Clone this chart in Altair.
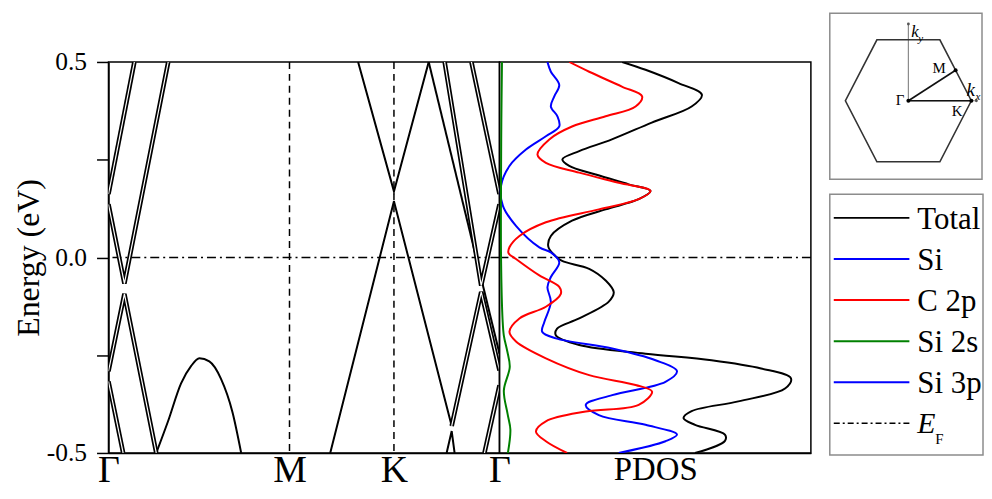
import altair as alt
import pandas as pd

FONT = "Liberation Serif"

# ---------------- band structure ----------------
# k-path coordinates of the high-symmetry points (Γ-M = 1)
kpt_labels = ["Γ", "M", "K", "Γ"]
kpt_pos = [0.0, 1.0, 1.577, 2.16]
e_ticks = [-0.5, -0.25, 0.0, 0.25, 0.5]

# nearly degenerate band pairs (drawn as double lines)
pair_a_k = [0.0, 0.143]
pair_a_e = [0.162, 0.5]
pair_b_k = [0.0, 0.088, 0.330]
pair_b_e = [0.136, -0.067, 0.5]
pair_c_k = [0.0, 0.088, 0.264]
pair_c_e = [-0.291, -0.093, -0.5]
pair_d_k = [0.0, 0.081]
pair_d_e = [-0.317, -0.5]
pair_e_k = [2.005, 2.16]
pair_e_e = [0.5, 0.162]
pair_f_k = [1.857, 2.059, 2.16]
pair_f_e = [0.5, -0.072, 0.136]
pair_g_k = [1.896, 2.059, 2.16]
pair_g_e = [-0.431, -0.088, -0.289]
pair_h_k = [2.077, 2.16]
pair_h_e = [-0.5, -0.327]

# single bands
single_a_k = [1.379, 1.577, 1.769]
single_a_e = [0.5, 0.169, 0.5]
single_b_k = [1.225, 1.577, 1.896]
single_b_e = [-0.5, 0.144, -0.431]
single_c_k = [1.868, 1.896, 1.912]
single_c_e = [-0.5, -0.444, -0.5]
single_d_k = [1.769, 2.16]
single_d_e = [0.5, -0.246]

# curved valence band between Γ and M
curve_k = [0.264, 0.329, 0.401, 0.456, 0.502, 0.557, 0.621, 0.685, 0.733]
curve_e = [-0.5, -0.419, -0.322, -0.278, -0.258, -0.266, -0.310, -0.396, -0.5]

# ---------------- PDOS ----------------
total_e = [0.5, 0.480, 0.446, 0.416, 0.386, 0.345, 0.302, 0.272, 0.251, 0.234,
           0.212, 0.187, 0.170, 0.149, 0.123, 0.094, 0.055, 0.027, 0.004, -0.009,
           -0.029, -0.059, -0.089, -0.113, -0.156, -0.182, -0.199, -0.224, -0.246, -0.263,
           -0.284, -0.309, -0.335, -0.368, -0.393, -0.411, -0.428, -0.453, -0.469, -0.5]
total_dos = [3.94, 4.69, 5.75, 6.50, 6.17, 4.89, 3.61, 2.56, 2.02, 2.24,
             3.09, 4.15, 4.85, 4.47, 3.41, 2.33, 1.65, 1.57, 1.79, 2.01,
             2.88, 3.41, 3.67, 3.51, 2.56, 1.85, 1.81, 2.56, 4.69, 6.81,
             8.40, 9.36, 9.17, 7.67, 6.17, 5.91, 6.28, 7.24, 7.24, 6.28]

c2p_e = [0.5, 0.475, 0.437, 0.412, 0.386, 0.361, 0.335, 0.302, 0.263, 0.242,
         0.217, 0.191, 0.170, 0.149, 0.123, 0.090, 0.055, 0.026, 0.011, -0.004,
         -0.046, -0.075, -0.093, -0.126, -0.156, -0.190, -0.215, -0.258, -0.301, -0.326,
         -0.343, -0.377, -0.394, -0.419, -0.445, -0.470, -0.5]
c2p_dos = [2.24, 2.88, 3.93, 4.58, 4.37, 3.41, 2.33, 1.60, 1.22, 1.49,
           2.56, 3.83, 4.85, 4.47, 3.19, 1.49, 0.64, 0.32, 0.29, 0.53,
           1.28, 1.92, 1.97, 1.49, 0.64, 0.32, 0.53, 1.49, 2.88, 4.37,
           4.90, 4.47, 2.77, 1.49, 1.17, 1.49, 2.17]

si3p_e = [0.5, 0.475, 0.441, 0.412, 0.386, 0.361, 0.335, 0.310, 0.276, 0.234,
          0.183, 0.132, 0.081, 0.026, 0.013, -0.012, -0.050, -0.076, -0.114, -0.165,
          -0.190, -0.207, -0.233, -0.263, -0.291, -0.318, -0.352, -0.377, -0.403, -0.428,
          -0.453, -0.470, -0.5]
si3p_dos = [1.54, 1.65, 1.92, 1.76, 1.65, 1.86, 1.92, 1.49, 0.85, 0.32,
            0.05, 0.11, 0.53, 1.28, 1.65, 1.92, 1.65, 1.54, 1.65, 1.44,
            1.37, 1.81, 3.62, 5.01, 5.70, 5.33, 3.62, 2.77, 3.19, 4.69,
            5.70, 5.33, 3.83]

si2s_e = [0.5, 0.35, 0.2, 0.0, -0.16, -0.2, -0.24, -0.28, -0.34, -0.40, -0.44, -0.5]
si2s_dos = [0.08, 0.06, 0.05, 0.05, 0.10, 0.14, 0.25, 0.33, 0.14, 0.26, 0.35, 0.27]

# ---------------- legend & Brillouin-zone inset ----------------
legend_names = ["Total", "Si", "C 2p", "Si 2s", "Si 3p"]
legend_colors = ["#000000", "#0000ff", "#ff0000", "#008000", "#0000ff"]

hex_kx = [1.0, 0.5, -0.5, -1.0, -0.5, 0.5, 1.0]
hex_ky = [0.0, 0.866, 0.866, 0.0, -0.866, -0.866, 0.0]
bz_names = ["Γ", "M", "K"]
bz_kx = [0.0, 0.75, 1.0]
bz_ky = [0.0, 0.433, 0.0]
kx_axis_end = 1.08
ky_axis_end = 1.09

# ================= build tables =================
def band_table(items, kind):
    rows = []
    for name, ks, es in items:
        for i, (k, e) in enumerate(zip(ks, es)):
            rows.append({"band": name, "i": i, "k": k, "E": e, "kind": kind})
    return rows

pairs = [("a", pair_a_k, pair_a_e), ("b", pair_b_k, pair_b_e), ("c", pair_c_k, pair_c_e),
         ("d", pair_d_k, pair_d_e), ("e", pair_e_k, pair_e_e), ("f", pair_f_k, pair_f_e),
         ("g", pair_g_k, pair_g_e), ("h", pair_h_k, pair_h_e)]
singles = [("sa", single_a_k, single_a_e), ("sb", single_b_k, single_b_e),
           ("sc", single_c_k, single_c_e), ("sd", single_d_k, single_d_e)]
df_pairs = pd.DataFrame(band_table(pairs, "pair"))
df_single = pd.DataFrame(band_table(singles, "single"))
df_curve = pd.DataFrame({"k": curve_k, "E": curve_e, "i": list(range(len(curve_k)))})

label_expr = "''"
for pos, lab in reversed(list(zip(kpt_pos, kpt_labels))):
    label_expr = f"abs(datum.value - {pos}) < 1e-6 ? '{lab}' : ({label_expr})"

e_scale = alt.Scale(domain=[-0.5, 0.5], nice=False, zero=False)

x_band = alt.X("k:Q",
               scale=alt.Scale(domain=[kpt_pos[0], kpt_pos[-1]], nice=False, zero=False),
               axis=alt.Axis(values=kpt_pos, labelExpr=label_expr, title=None, ticks=False,
                             tickSize=0, domain=True, domainColor="black", domainWidth=1.5,
                             grid=False, labelFont=FONT, labelFontSize=38, labelPadding=29,
                             labelBaseline="alphabetic", labelColor="black",
                             labelOverlap=False, labelFlush=False))
y_band = alt.Y("E:Q", scale=e_scale,
               axis=alt.Axis(values=e_ticks,
                             labelExpr="abs(datum.value) == 0.25 ? '' : (datum.value < 0 ? '-' + format(-datum.value, '.1f') : format(datum.value, '.1f'))",
                             title="Energy (eV)", titleFont=FONT, titleFontSize=32,
                             titleFontWeight="normal", titlePadding=1, titleColor="black",
                             labelFont=FONT, labelFontSize=25.6, labelColor="black",
                             labelPadding=10, tickSize=12, tickColor="black", tickWidth=1.5,
                             domainColor="black", domainWidth=1.5, grid=False,
                             labelOverlap=False))

kp_rules = alt.Chart(pd.DataFrame({"k": kpt_pos[1:3]})).mark_rule(
    color="black", strokeWidth=1.5, strokeDash=[7, 5]).encode(x=x_band)
ef_rule_band = alt.Chart(pd.DataFrame({"E": [0.0]})).mark_rule(
    color="black", strokeWidth=1.5, strokeDash=[9, 4, 2, 4]).encode(y=y_band)
single_lines = alt.Chart(df_single).mark_line(color="black", strokeWidth=2, clip=True).encode(
    x=x_band, y=y_band, detail="band:N", order="i:Q")
curve_line = alt.Chart(df_curve).mark_line(color="black", strokeWidth=2, clip=True,
                                           interpolate="monotone").encode(
    x=x_band, y=y_band, order="i:Q")
pair_black = alt.Chart(df_pairs).mark_line(color="black", strokeWidth=4.6, clip=True).encode(
    x=x_band, y=y_band, detail="band:N", order="i:Q")
pair_white = alt.Chart(df_pairs).mark_line(color="white", strokeWidth=1.2, clip=True).encode(
    x=x_band, y=y_band, detail="band:N", order="i:Q")

band = alt.layer(kp_rules, ef_rule_band, single_lines, curve_line, pair_black, pair_white).properties(
    width=393, height=393, view=alt.ViewBackground(stroke="black", strokeWidth=1.5))

# PDOS panel
x_dos = alt.X("dos:Q", scale=alt.Scale(domain=[0, 10], nice=False, zero=False),
              axis=alt.Axis(title="PDOS", labels=False, ticks=False, tickSize=0, domain=True,
                            domainColor="black", domainWidth=1.5, grid=False, titleFont=FONT,
                            titleFontSize=33, titleFontWeight="normal", titlePadding=27,
                            titleBaseline="alphabetic", titleColor="black"))
y_dos = alt.Y("E:Q", scale=e_scale, axis=None)

ef_rule_dos = alt.Chart(pd.DataFrame({"E": [0.0]})).mark_rule(
    color="black", strokeWidth=1.5, strokeDash=[9, 4, 2, 4]).encode(y=y_dos)

pdos_layers = [ef_rule_dos]
for es, ds, col in [(total_e, total_dos, "#000000"), (si3p_e, si3p_dos, "#0000ff"),
                    (c2p_e, c2p_dos, "#ff0000"), (si2s_e, si2s_dos, "#008000")]:
    d = pd.DataFrame({"E": es, "dos": ds, "i": list(range(len(es)))})
    pdos_layers.append(alt.Chart(d).mark_line(color=col, strokeWidth=2, clip=True,
                                              interpolate="catmull-rom").encode(
        x=x_dos, y=y_dos, order="i:Q"))
pdos = alt.layer(*pdos_layers).properties(
    width=313, height=393, view=alt.ViewBackground(stroke="black", strokeWidth=1.5))

# Brillouin-zone inset
x_in = alt.X("kx:Q", scale=alt.Scale(domain=[-1.248, 1.169], nice=False, zero=False), axis=None)
y_in = alt.Y("ky:Q", scale=alt.Scale(domain=[-1.116, 1.243], nice=False, zero=False), axis=None)

df_hex = pd.DataFrame({"kx": hex_kx, "ky": hex_ky, "i": list(range(len(hex_kx)))})
df_bz = pd.DataFrame({"name": bz_names, "kx": bz_kx, "ky": bz_ky})
df_axes = pd.DataFrame({"ax": ["x", "x", "y", "y"],
                        "kx": [0.0, kx_axis_end, 0.0, 0.0],
                        "ky": [0.0, 0.0, 0.0, ky_axis_end], "i": [0, 1, 0, 1]})
df_path = pd.DataFrame({"seg": ["M", "M", "K", "K"],
                        "kx": [bz_kx[0], bz_kx[1], bz_kx[0], bz_kx[2]],
                        "ky": [bz_ky[0], bz_ky[1], bz_ky[0], bz_ky[2]], "i": [0, 1, 0, 1]})
df_axend = pd.DataFrame({"kx": [kx_axis_end, 0.0], "ky": [0.0, ky_axis_end]})

axes_lines = alt.Chart(df_axes).mark_line(color="#8a8a8a", strokeWidth=1.2).encode(
    x=x_in, y=y_in, detail="ax:N", order="i:Q")
hex_line = alt.Chart(df_hex).mark_line(color="#333333", strokeWidth=1.6).encode(
    x=x_in, y=y_in, order="i:Q")
path_lines = alt.Chart(df_path).mark_line(color="#111111", strokeWidth=1.6).encode(
    x=x_in, y=y_in, detail="seg:N", order="i:Q")
bz_dots = alt.Chart(df_bz).mark_circle(color="black", size=16, opacity=1).encode(x=x_in, y=y_in)
ax_dots = alt.Chart(df_axend).mark_circle(color="#555555", size=8, opacity=1).encode(x=x_in, y=y_in)

def bz_text(name, dx, dy, align="right", size=15):
    return alt.Chart(df_bz).transform_filter(alt.datum.name == name).mark_text(
        font=FONT, fontSize=size, color="black", align=align, baseline="alphabetic",
        dx=dx, dy=dy).encode(x=x_in, y=y_in, text="name:N")

t_gamma = bz_text("Γ", -4, 4)
t_m = bz_text("M", -10, 3)
t_k = bz_text("K", -9, 15)
df_ky = pd.DataFrame({"kx": [0.0], "ky": [ky_axis_end], "t": ["k"], "s": ["y"]})
df_kx = pd.DataFrame({"kx": [kx_axis_end], "ky": [0.0], "t": ["k"], "s": ["x"]})
t_ky = alt.Chart(df_ky).mark_text(font=FONT, fontSize=17, fontStyle="italic", align="left",
                                  baseline="alphabetic", dx=3, dy=13).encode(x=x_in, y=y_in, text="t:N")
t_ky_sub = alt.Chart(df_ky).mark_text(font=FONT, fontSize=11, fontStyle="italic", align="left",
                                      baseline="alphabetic", dx=10, dy=18).encode(x=x_in, y=y_in, text="s:N")
t_kx = alt.Chart(df_kx).mark_text(font=FONT, fontSize=19, fontStyle="italic", align="left",
                                  baseline="alphabetic", dx=-10, dy=-5).encode(x=x_in, y=y_in, text="t:N")
t_kx_sub = alt.Chart(df_kx).mark_text(font=FONT, fontSize=11, fontStyle="italic", align="left",
                                      baseline="alphabetic", dx=-1, dy=-1).encode(x=x_in, y=y_in, text="s:N")

inset = alt.layer(axes_lines, hex_line, path_lines, ax_dots, bz_dots, t_gamma, t_m, t_k,
                  t_ky, t_ky_sub, t_kx, t_kx_sub).properties(
    width=153, height=167, view=alt.ViewBackground(stroke="#8c8c8c", strokeWidth=1.5))

# legend box
df_leg = pd.DataFrame({"row": list(range(len(legend_names))), "name": legend_names,
                       "color": legend_colors})
df_ef = pd.DataFrame({"row": [len(legend_names)], "E": ["E"], "F": ["F"]})
y_leg = alt.Y("row:Q", scale=alt.Scale(domain=[-0.574, 5.77], nice=False, zero=False, reverse=True),
              axis=None)
leg_lines = alt.Chart(df_leg).mark_rule(strokeWidth=2).encode(
    x=alt.value(4), x2=alt.value(80), y=y_leg, color=alt.Color("color:N", scale=None))
leg_text = alt.Chart(df_leg).mark_text(font=FONT, fontSize=31, color="black", align="left",
                                       baseline="alphabetic", dy=11).encode(
    x=alt.value(88), y=y_leg, text="name:N")
ef_line = alt.Chart(df_ef).mark_rule(strokeWidth=1.5, color="black", strokeDash=[6, 3, 2, 3]).encode(
    x=alt.value(4), x2=alt.value(80), y=y_leg)
ef_e = alt.Chart(df_ef).mark_text(font=FONT, fontSize=30, fontStyle="italic", color="black",
                                  align="left", baseline="alphabetic", dy=10).encode(
    x=alt.value(88), y=y_leg, text="E:N")
ef_f = alt.Chart(df_ef).mark_text(font=FONT, fontSize=15, color="black", align="left",
                                  baseline="alphabetic", dy=21).encode(
    x=alt.value(106), y=y_leg, text="F:N")
legend = alt.layer(leg_lines, ef_line, leg_text, ef_e, ef_f).properties(
    width=154, height=262, view=alt.ViewBackground(stroke="#8c8c8c", strokeWidth=1.5))

spacer = alt.Chart(pd.DataFrame({"v": [0]})).mark_point(opacity=0, size=1).encode(
    x=alt.value(0.5), y=alt.value(20)).properties(
    width=1, height=35, view=alt.ViewBackground(stroke="transparent"))

left = alt.vconcat(spacer, alt.hconcat(band, pdos, spacing=0, bounds="flush"), spacing=0)
right = alt.vconcat(inset, legend, spacing=13)
chart = alt.hconcat(left, right, spacing=16).properties(
    padding={"left": 3, "top": 3, "right": 0, "bottom": 0}
).configure(font=FONT)

chart.save("out.html", embed_options={"renderer": "svg", "actions": False})
